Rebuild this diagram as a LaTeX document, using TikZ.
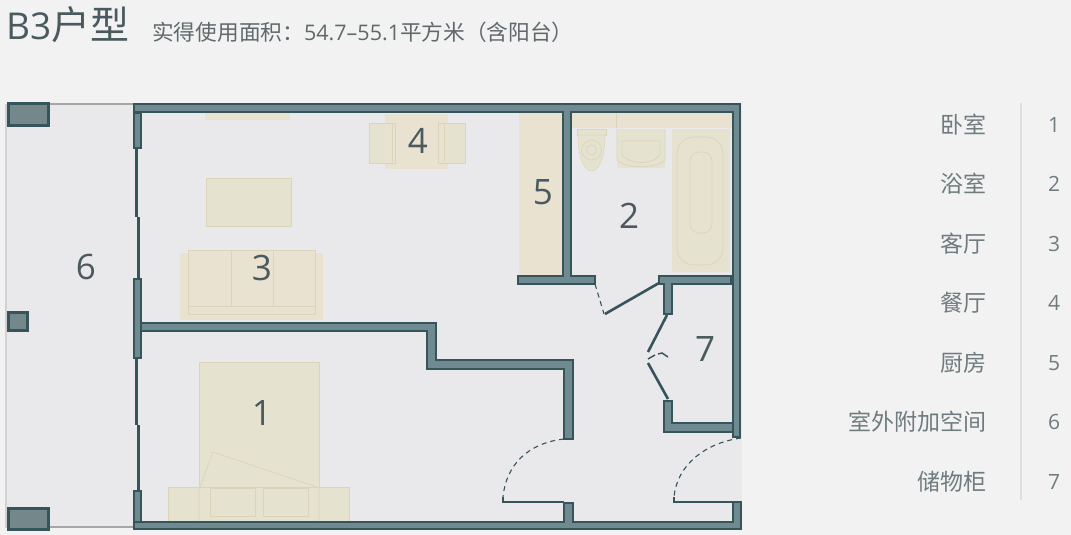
\documentclass[tikz,border=0pt]{standalone}
\usepackage{fontspec}
\setmainfont{Open Sans}
\newfontfamily\cjk{Noto Sans CJK SC}
\definecolor{paper}{HTML}{F3F2F2}
\definecolor{floorc}{HTML}{E9E9EC}
\definecolor{wallc}{HTML}{6F8A90}
\definecolor{wallline}{HTML}{36555B}
\definecolor{tanc}{HTML}{E5E2D0}
\definecolor{tanw}{HTML}{EAE2D0}
\definecolor{tanline}{HTML}{DAD5B8}
\definecolor{inkc}{HTML}{4A5A5E}
\definecolor{legc}{HTML}{6F7C7F}
\begin{document}
\begin{tikzpicture}[x=1pt,y=-1pt,
	wall/.style={fill=wallc,draw=wallline,line width=2pt},
	column/.style={fill=wallc!70!gray,draw=wallline,line width=2.2pt},
	glass/.style={draw=wallline,line width=3pt},
	leaf/.style={draw=wallline,line width=1.4pt},
	doorleaf/.style={draw=wallline,line width=2.6pt},
	swing/.style={draw=wallline,line width=1.1pt,dash pattern=on 5pt off 4pt},
	furn/.style={fill=tanc,draw=tanline,line width=0.5pt},
	sanit/.style={draw=tanline,line width=0.7pt},
	roomno/.style={text=inkc,font=\fontsize{35}{35}\selectfont},
	legname/.style={text=legc,anchor=east,font=\cjk\fontsize{23}{23}\selectfont},
	legno/.style={text=legc,font=\fontsize{21}{21}\selectfont}]
\useasboundingbox (0,0) rectangle (1071,535);
\fill[paper] (0,0) rectangle (1071,535);
\fill[floorc] (6,104) rectangle (742,528);

% furniture
\fill[tanw] (205,113) rectangle (290,120);
\draw[furn] (206,178) rectangle (291,226);
\fill[tanw] (180,253) rectangle (323,320);
\draw[furn,fill=tanw] (188,250) rectangle (315,314);
\draw[sanit] (231,250) -- (231,306) (273,250) -- (273,306) (188,306) -- (315,306);
\draw[furn] (199,362) rectangle (319,522);
\draw[furn] (168,487) rectangle (349,522);
\draw[sanit] (200,487) -- (213,452) -- (317,487) (199,487) -- (199,522) (319,487) -- (319,522);
\draw[sanit] (210,488) rectangle (255,516) (263,488) rectangle (308,516);
\fill[tanc] (369,123) rectangle (395,163);
\fill[tanc] (438,123) rectangle (465,163);
\fill[tanw] (385,114) rectangle (448,169);
\draw[sanit] (369,123) rectangle (395,163) (438,123) rectangle (465,163);
\draw[sanit] (392,124) -- (392,162) (444,124) -- (444,162);
\fill[tanw] (519,113) rectangle (563,275);

% bathroom
\fill[tanw] (572,113) rectangle (732,128);
\draw[sanit] (616,113) -- (616,128);
\draw[furn] (577,129) rectangle (606,135);
\draw[furn] (578,135) .. controls (578,183) and (605,183) .. (605,135) -- cycle;
\draw[sanit] (591.5,150) circle (5);
\draw[sanit] (591.5,150) circle (10);
\fill[tanc] (617,129) rectangle (665,168);
\draw[sanit] (617,129) -- (617,160) .. controls (625,169) and (657,169) .. (665,160) -- (665,129);
\draw[sanit] (622,141) -- (660,141) -- (660,155) .. controls (652,165) and (630,165) .. (622,155) -- cycle;
\fill[tanc] (672,129) rectangle (730,272);
\draw[sanit,rounded corners=17pt] (677,137) rectangle (723,265);
\draw[sanit,rounded corners=9pt] (690,152) rectangle (712,233);

% thin edges of the terrace
\draw[gray!70,line width=1.5pt] (49,104) -- (134,104) (49,527) -- (134,527);
\draw[gray!35,line width=2pt] (6,104) -- (6,528);
\node[column] (colA) at (28.5,114.5) [minimum width=40pt,minimum height=22pt,inner sep=0pt] {};
\node[column] (colB) at (18,321.5) [minimum width=19pt,minimum height=18pt,inner sep=0pt] {};
\node[column] (colC) at (28.5,519) [minimum width=40pt,minimum height=21pt,inner sep=0pt] {};

% window line
\draw[glass] (136,148) -- (136,217) (138.5,217) -- (138.5,280);
\draw[glass] (136,358) -- (136,425) (138.5,425) -- (138.5,491);

% walls
\draw[wall] (134,104) -- (740,104) -- (740,437) -- (733,437) -- (733,112) -- (571,112) -- (571,276) -- (595,276) -- (595,284) -- (518,284) -- (518,276) -- (563,276) -- (563,112) -- (134,112) -- cycle;
\draw[wall] (134,113) rectangle (141,148);
\draw[wall] (134,279) rectangle (141,358);
\draw[wall] (134,491) rectangle (141,522);
\draw[wall] (141,323) -- (436,323) -- (436,360) -- (573,360) -- (573,439) -- (564,439) -- (564,369) -- (427,369) -- (427,331) -- (141,331) -- cycle;
\draw[wall] (659,276) -- (731,276) -- (731,284) -- (672,284) -- (672,314) -- (664,314) -- (664,284) -- (659,284) -- cycle;
\draw[wall] (664,401) -- (672,401) -- (672,423) -- (733,423) -- (733,432) -- (664,432) -- cycle;
\draw[wall] (134,522) -- (564,522) -- (564,503) -- (573,503) -- (573,522) -- (733,522) -- (733,502) -- (741,502) -- (741,529) -- (134,529) -- cycle;

% doors
\draw[leaf] (564,502) -- (503,502) -- (503,497);
\draw[leaf] (733,502) -- (674,502) -- (674,497);
\draw[swing] (564,439) .. controls (528,443) and (506,465) .. (503,497);
\draw[swing] (741,438) .. controls (705,443) and (677,465) .. (674,497);
\draw[swing] (595,284) -- (604,314);
\draw[doorleaf] (605,314) -- (659,283);
\draw[doorleaf] (667,315) -- (648,352);
\draw[doorleaf] (648,363) -- (668,399);
\draw[leaf] (648,359) -- (655,355) (658,354) -- (662,353) -- (668,357);

% room numbers
\node[roomno] (noA) at (262,413) {1};
\node[roomno] (noB) at (629,216) {2};
\node[roomno] (noC) at (262,268) {3};
\node[roomno] (noD) at (418,141) {4};
\node[roomno] (noE) at (543,192) {5};
\node[roomno] (noF) at (86,267) {6};
\node[roomno] (noG) at (705,349) {7};

% header
\node[text=inkc,anchor=west,inner sep=0pt,font=\fontsize{37}{37}\selectfont] (title) at (6,25) {B3{\cjk\fontsize{39}{39}\selectfont 户型}};
\node[text=legc!85!black,anchor=west,inner sep=0pt,font=\fontsize{21.5}{22}\selectfont] (sub) at (152,32) {{\cjk\fontsize{21.7}{22}\selectfont 实得使用面积：}54.7--55.1{\cjk\fontsize{21.7}{22}\selectfont 平方米（含阳台）}};

% legend
\draw[gray!25,line width=1.2pt] (1021,103) -- (1021,500);
\foreach \y/\name/\no in {125/卧室/1,184/浴室/2,244/客厅/3,303/餐厅/4,363/厨房/5,422/室外附加空间/6,482/储物柜/7}
	{
	\node[legname,inner sep=0pt] (name\no) at (987,\y) {\name};
	\node[legno] (num\no) at (1054,\y) {\no};
	}
\end{tikzpicture}
\end{document}
